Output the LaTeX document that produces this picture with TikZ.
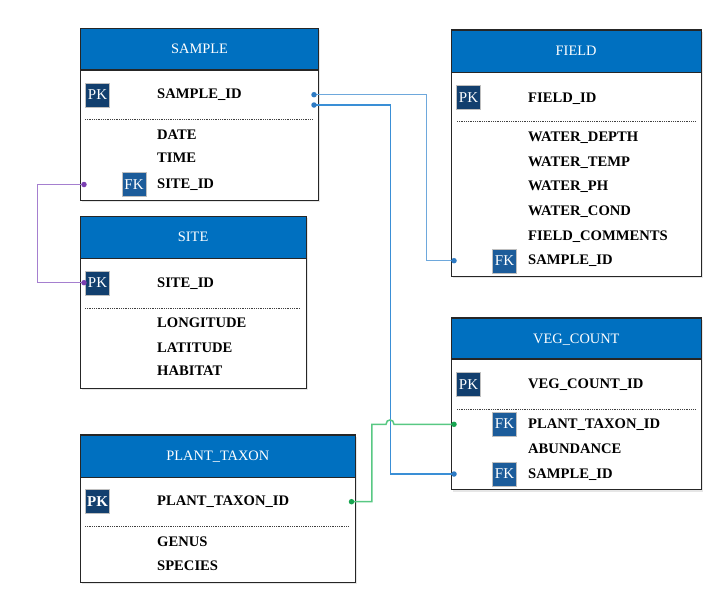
\documentclass[tikz,border=0pt]{standalone}
\usepackage{fontspec}
\setmainfont{Liberation Serif}
\usepackage{tikz}
\usetikzlibrary{shapes.geometric, shapes.misc, arrows, shadows}
\usetikzlibrary{positioning}
\tikzset{font={\fontsize{14.4}{17}\selectfont}}

\definecolor{headblue}{HTML}{0070C0}
\definecolor{pkblue}{HTML}{123F6E}
\definecolor{fkblue}{HTML}{1C5C9A}
\definecolor{linklight}{HTML}{6EA8DC}
\definecolor{linkdark}{HTML}{3A8FD6}
\definecolor{dotblue}{HTML}{2E7BC4}
\definecolor{linkgreen}{HTML}{58C883}
\definecolor{dotgreen}{HTML}{18A550}
\definecolor{linkpurple}{HTML}{A57FCF}
\definecolor{dotpurple}{HTML}{7A3FB0}

\tikzset{
	tbl/.style={rectangle, draw=black!85, line width=1.2pt, fill=white, anchor=north west, inner sep=0pt,
		drop shadow={opacity=0.2, shadow xshift=1.5pt, shadow yshift=-2pt}},
	tblhead/.style={rectangle, draw=black!85, line width=1.2pt, fill=headblue, text=white, anchor=north west,
		inner sep=0pt, text height=9.5pt, text depth=0pt},
	attr/.style={anchor=west, inner sep=0pt, text height=9.5pt, text depth=0pt,
		font={\fontsize{14.6}{17}\selectfont\bfseries}},
	badge/.style={rectangle, draw=black!25, line width=0.8pt, text=white, minimum width=24pt,
		minimum height=24pt, inner sep=0pt, font={\fontsize{15}{15}\selectfont}},
	pk/.style={badge, fill=pkblue},
	fk/.style={badge, fill=fkblue},
	sepline/.style={black!75, line width=0.7pt, dash pattern=on 1pt off 0.8pt},
	port/.style={circle, fill=#1, inner sep=0pt, minimum size=5.5pt},
	link/.style={line width=1.5pt, draw=#1}
}

\begin{document}
\begin{tikzpicture}[x=1pt, y=-1pt]

	\useasboundingbox (0,0) rectangle (720,608);

	% SAMPLE
	\node (sample) [tbl, minimum width=238pt, minimum height=172pt] at (80,27.5) {};
	\node (sample_head) [tblhead, minimum width=238pt, minimum height=41.8pt] at (80,27.5) {SAMPLE};
	\node (sample_pk) [pk] at (97.5,95) {PK};
	\node (sample_id) [attr] at (157,94) {SAMPLE\_ID};
	\draw[sepline] (85,119.3) -- (312,119.3);
	\node (sample_date) [attr] at (157,135) {DATE};
	\node (sample_time) [attr] at (157,158) {TIME};
	\node (sample_fk) [fk] at (134,184.5) {FK};
	\node (sample_site) [attr] at (157,184) {SITE\_ID};

	% SITE
	\node (site) [tbl, minimum width=226pt, minimum height=172pt] at (79.5,215.7) {};
	\node (site_head) [tblhead, minimum width=226pt, minimum height=41.8pt] at (79.5,215.7) {SITE};
	\node (site_pk) [pk] at (97.5,283) {PK};
	\node (site_id) [attr] at (157,282.5) {SITE\_ID};
	\draw[sepline] (85,308.3) -- (300,308.3);
	\node (site_lon) [attr] at (157,323) {LONGITUDE};
	\node (site_lat) [attr] at (157,347.5) {LATITUDE};
	\node (site_hab) [attr] at (157,371) {HABITAT};

	% PLANT_TAXON
	\node (plant) [tbl, minimum width=275.5pt, minimum height=147.4pt] at (79.5,434.3) {};
	\node (plant_head) [tblhead, minimum width=275.5pt, minimum height=42.4pt] at (79.5,434.3) {PLANT\_TAXON};
	\node (plant_pk) [pk, font={\fontsize{15}{15}\selectfont\bfseries}] at (97.5,501.3) {PK};
	\node (plant_id) [attr] at (157,501) {PLANT\_TAXON\_ID};
	\draw[sepline] (85,526.7) -- (348,526.7);
	\node (plant_genus) [attr] at (157,541.7) {GENUS};
	\node (plant_species) [attr] at (157,565.7) {SPECIES};

	% FIELD
	\node (field) [tbl, minimum width=250pt, minimum height=246.2pt] at (450.5,29.3) {};
	\node (field_head) [tblhead, minimum width=250pt, minimum height=42.2pt] at (450.5,29.3) {FIELD};
	\node (field_pk) [pk] at (468.5,97.5) {PK};
	\node (field_id) [attr] at (528,97.3) {FIELD\_ID};
	\draw[sepline] (457,121.7) -- (695,121.7);
	\node (field_depth) [attr] at (528,136.7) {WATER\_DEPTH};
	\node (field_temp) [attr] at (528,161.5) {WATER\_TEMP};
	\node (field_ph) [attr] at (528,186) {WATER\_PH};
	\node (field_cond) [attr] at (528,211) {WATER\_COND};
	\node (field_comm) [attr] at (528,236) {FIELD\_COMMENTS};
	\node (field_fk) [fk] at (504.5,261) {FK};
	\node (field_sample) [attr] at (528,259.7) {SAMPLE\_ID};

	% VEG_COUNT
	\node (veg) [tbl, minimum width=250.5pt, minimum height=171.7pt] at (450.5,317.3) {};
	\node (veg_head) [tblhead, minimum width=250.5pt, minimum height=41pt] at (450.5,317.3) {VEG\_COUNT};
	\node (veg_pk) [pk] at (468.5,384.5) {PK};
	\node (veg_id) [attr] at (528,384) {VEG\_COUNT\_ID};
	\draw[sepline] (457,409.3) -- (695,409.3);
	\node (veg_fk1) [fk] at (504.5,424) {FK};
	\node (veg_plant) [attr] at (528,423.5) {PLANT\_TAXON\_ID};
	\node (veg_abund) [attr] at (528,448.3) {ABUNDANCE};
	\node (veg_fk2) [fk] at (504.5,474) {FK};
	\node (veg_sample) [attr] at (528,473.3) {SAMPLE\_ID};

	% links
	\draw[link=linklight] (314,94.7) coordinate (sample_out1) -- ++(112.3,0) |- (454,260.7) coordinate (field_in);

	\draw[link=linkdark] (314,105) coordinate (sample_out2) -- ++(76.3,0) |- (454,474) coordinate (veg_in2);

	\draw[link=linkpurple] (84,184.5) coordinate (sample_in) -- ++(-46.7,0) |- (84,282.7) coordinate (site_in);

	\draw[link=linkgreen] (351.5,501.7) coordinate (plant_out) -- ++(20.3,0) |- (386,424.3)
	.. controls (386,418.5) and (394,418.5) .. (394,424.3)
	-- (454,424.3) coordinate (veg_in1);

	% ports
	\foreach \p/\c in {sample_out1/dotblue, sample_out2/dotblue, field_in/dotblue, veg_in2/dotblue,
		sample_in/dotpurple, site_in/dotpurple, plant_out/dotgreen, veg_in1/dotgreen}
		\node [port=\c] at (\p) {};

\end{tikzpicture}
\end{document}
